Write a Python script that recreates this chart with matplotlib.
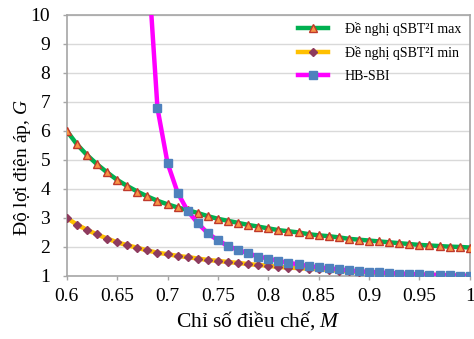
import numpy as np
import matplotlib
matplotlib.use("Agg")
import matplotlib.pyplot as plt

# modulation index M (0.01 steps)
m_vals = [round(0.60 + 0.01 * i, 2) for i in range(41)]

# proposed qSBT2I, max gain
g_max = [6.00, 5.54, 5.17, 4.85, 4.57, 4.31, 4.10, 3.91, 3.74, 3.59,
         3.47, 3.36, 3.27, 3.17, 3.06, 2.97, 2.90, 2.83, 2.76, 2.70,
         2.64, 2.58, 2.54, 2.50, 2.44, 2.40, 2.37, 2.33, 2.28, 2.25,
         2.22, 2.19, 2.16, 2.13, 2.10, 2.07, 2.05, 2.03, 2.01, 2.00,
         1.98]

# proposed qSBT2I, min gain
g_min = [3.00, 2.77, 2.59, 2.43, 2.29, 2.16, 2.06, 1.97, 1.88, 1.80,
         1.75, 1.69, 1.65, 1.60, 1.55, 1.52, 1.48, 1.45, 1.41, 1.38,
         1.35, 1.31, 1.29, 1.27, 1.25, 1.23, 1.21, 1.18, 1.16, 1.14,
         1.12, 1.10, 1.09, 1.07, 1.06, 1.05, 1.04, 1.03, 1.02, 1.01,
         1.00]

# HB-SBI
m_hb = m_vals[8:]
g_hb = [12.10, 6.78, 4.89, 3.87, 3.24, 2.82, 2.47, 2.23, 2.03, 1.90,
        1.78, 1.67, 1.60, 1.52, 1.45, 1.40, 1.34, 1.30, 1.26, 1.23,
        1.19, 1.16, 1.14, 1.12, 1.10, 1.08, 1.07, 1.05, 1.04, 1.03,
        1.02, 1.01, 1.00]

labels = ["Đề nghị qSBT²I max", "Đề nghị qSBT²I min", "HB-SBI"]
x_ticks = [0.6, 0.65, 0.7, 0.75, 0.8, 0.85, 0.9, 0.95, 1]
x_ticklabels = ["0.6", "0.65", "0.7", "0.75", "0.8", "0.85", "0.9", "0.95", "1"]

plt.rcParams['font.family'] = ['Liberation Serif', 'DejaVu Serif']
plt.rcParams['mathtext.fontset'] = 'custom'
plt.rcParams['mathtext.rm'] = 'Liberation Serif'
plt.rcParams['mathtext.it'] = 'Liberation Serif:italic'

fig = plt.figure(figsize=(4.74, 3.39), dpi=100)
ax = fig.add_axes([0.141, 0.186, 0.850, 0.770])

ax.plot(m_vals, g_max, color='#00B050', lw=3.2, marker='^', ms=6,
        mfc='#F79646', mec='#C0392B', mew=1.0, label=labels[0], zorder=3)
ax.plot(m_vals, g_min, color='#FFC000', lw=3.2, marker='D', ms=4.5,
        mfc='#8E3B5E', mec='#8E3B5E', label=labels[1], zorder=3)
ax.plot(m_hb, g_hb, color='#FF00FF', lw=3.2, marker='s', ms=5.5,
        mfc='#4F81BD', mec='#4F81BD', label=labels[2], zorder=4)

ax.set_xlim(0.6, 1.0)
ax.set_ylim(1, 10)
ax.set_xticks(x_ticks)
ax.set_xticklabels(x_ticklabels)
ax.set_yticks(range(1, 11))
ax.tick_params(labelsize=14, color='#A6A6A6', length=3, width=1)
ax.tick_params(axis='x', pad=6)
ax.tick_params(axis='y', pad=9)
ax.grid(axis='y', color='#D9D9D9', lw=1)
ax.set_axisbelow(True)
for s in ax.spines.values():
    s.set_color('#A6A6A6')
    s.set_linewidth(1.2)

ax.set_xlabel('Chỉ số điều chế, $M$', fontsize=15.5)
ax.set_ylabel('Độ lợi điện áp, $G$', fontsize=14)
ax.xaxis.set_label_coords(0.475, -0.128)
ax.yaxis.set_label_coords(-0.085, 0.414)

leg = ax.legend(loc='upper right', bbox_to_anchor=(1.01, 1.02), frameon=False,
                fontsize=10, handlelength=2.2, handletextpad=1.2,
                labelspacing=0.72)

fig.savefig('out.png', dpi=100)
